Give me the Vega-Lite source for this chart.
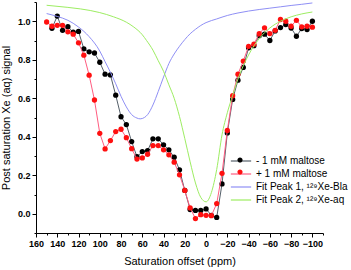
{
  "$schema": "https://vega.github.io/schema/vega-lite/v6.json",
  "width": 287,
  "height": 231,
  "autosize": "none",
  "padding": {"left": 36, "top": 2, "right": 28, "bottom": 37},
  "config": {
    "view": {"stroke": null},
    "font": "Liberation Sans",
    "axis": {"grid": false, "domainColor": "#000", "tickColor": "#000", "labelColor": "#000", "titleColor": "#000", "labelFont": "Liberation Sans", "labelFontWeight": "bold", "labelFontSize": 9, "titleFont": "Liberation Sans", "titleFontWeight": "normal", "titleFontSize": 11, "labelOverlap": false, "labelFlush": false}
  },
  "datasets": {
    "minus": [
      {"s": "- 1 mM maltose", "x": 145, "y": 0.963}, {"s": "- 1 mM maltose", "x": 140, "y": 1.027}, {"s": "- 1 mM maltose", "x": 135, "y": 0.953}, {"s": "- 1 mM maltose", "x": 130, "y": 0.972}, {"s": "- 1 mM maltose", "x": 125, "y": 0.943}, {"s": "- 1 mM maltose", "x": 120, "y": 0.947}, {"s": "- 1 mM maltose", "x": 115, "y": 0.857}, {"s": "- 1 mM maltose", "x": 110, "y": 0.841}, {"s": "- 1 mM maltose", "x": 105, "y": 0.835}, {"s": "- 1 mM maltose", "x": 100, "y": 0.787}, {"s": "- 1 mM maltose", "x": 95, "y": 0.725}, {"s": "- 1 mM maltose", "x": 90, "y": 0.721}, {"s": "- 1 mM maltose", "x": 85, "y": 0.616}, {"s": "- 1 mM maltose", "x": 80, "y": 0.504}, {"s": "- 1 mM maltose", "x": 75, "y": 0.463}, {"s": "- 1 mM maltose", "x": 70, "y": 0.375}, {"s": "- 1 mM maltose", "x": 65, "y": 0.296}, {"s": "- 1 mM maltose", "x": 60, "y": 0.323}, {"s": "- 1 mM maltose", "x": 55, "y": 0.328}, {"s": "- 1 mM maltose", "x": 50, "y": 0.389}, {"s": "- 1 mM maltose", "x": 45, "y": 0.389}, {"s": "- 1 mM maltose", "x": 40, "y": 0.358}, {"s": "- 1 mM maltose", "x": 35, "y": 0.332}, {"s": "- 1 mM maltose", "x": 30, "y": 0.294}, {"s": "- 1 mM maltose", "x": 25, "y": 0.228}, {"s": "- 1 mM maltose", "x": 20, "y": 0.121}, {"s": "- 1 mM maltose", "x": 15, "y": 0.022}, {"s": "- 1 mM maltose", "x": 10, "y": 0.017}, {"s": "- 1 mM maltose", "x": 5, "y": 0.017}, {"s": "- 1 mM maltose", "x": 0, "y": 0.025}, {"s": "- 1 mM maltose", "x": -5, "y": -0.008}, {"s": "- 1 mM maltose", "x": -10, "y": -0.019}, {"s": "- 1 mM maltose", "x": -15, "y": 0.155}, {"s": "- 1 mM maltose", "x": -20, "y": 0.42}, {"s": "- 1 mM maltose", "x": -25, "y": 0.594}, {"s": "- 1 mM maltose", "x": -30, "y": 0.694}, {"s": "- 1 mM maltose", "x": -35, "y": 0.76}, {"s": "- 1 mM maltose", "x": -40, "y": 0.862}, {"s": "- 1 mM maltose", "x": -45, "y": 0.873}, {"s": "- 1 mM maltose", "x": -50, "y": 0.925}, {"s": "- 1 mM maltose", "x": -55, "y": 0.933}, {"s": "- 1 mM maltose", "x": -60, "y": 0.9}, {"s": "- 1 mM maltose", "x": -65, "y": 0.95}, {"s": "- 1 mM maltose", "x": -70, "y": 0.967}, {"s": "- 1 mM maltose", "x": -75, "y": 0.983}, {"s": "- 1 mM maltose", "x": -80, "y": 0.965}, {"s": "- 1 mM maltose", "x": -85, "y": 0.922}, {"s": "- 1 mM maltose", "x": -90, "y": 0.962}, {"s": "- 1 mM maltose", "x": -95, "y": 0.957}, {"s": "- 1 mM maltose", "x": -100, "y": 1.0}
    ],
    "plus": [
      {"s": "+ 1 mM maltose", "x": 150, "y": 0.996}, {"s": "+ 1 mM maltose", "x": 145, "y": 0.974}, {"s": "+ 1 mM maltose", "x": 140, "y": 0.979}, {"s": "+ 1 mM maltose", "x": 135, "y": 0.979}, {"s": "+ 1 mM maltose", "x": 130, "y": 0.945}, {"s": "+ 1 mM maltose", "x": 125, "y": 0.933}, {"s": "+ 1 mM maltose", "x": 120, "y": 0.888}, {"s": "+ 1 mM maltose", "x": 115, "y": 0.824}, {"s": "+ 1 mM maltose", "x": 110, "y": 0.72}, {"s": "+ 1 mM maltose", "x": 105, "y": 0.591}, {"s": "+ 1 mM maltose", "x": 100, "y": 0.418}, {"s": "+ 1 mM maltose", "x": 95, "y": 0.337}, {"s": "+ 1 mM maltose", "x": 90, "y": 0.38}, {"s": "+ 1 mM maltose", "x": 85, "y": 0.427}, {"s": "+ 1 mM maltose", "x": 80, "y": 0.439}, {"s": "+ 1 mM maltose", "x": 75, "y": 0.395}, {"s": "+ 1 mM maltose", "x": 70, "y": 0.338}, {"s": "+ 1 mM maltose", "x": 65, "y": 0.284}, {"s": "+ 1 mM maltose", "x": 60, "y": 0.29}, {"s": "+ 1 mM maltose", "x": 55, "y": 0.309}, {"s": "+ 1 mM maltose", "x": 50, "y": 0.354}, {"s": "+ 1 mM maltose", "x": 45, "y": 0.354}, {"s": "+ 1 mM maltose", "x": 40, "y": 0.332}, {"s": "+ 1 mM maltose", "x": 35, "y": 0.306}, {"s": "+ 1 mM maltose", "x": 30, "y": 0.268}, {"s": "+ 1 mM maltose", "x": 25, "y": 0.202}, {"s": "+ 1 mM maltose", "x": 20, "y": 0.121}, {"s": "+ 1 mM maltose", "x": 15, "y": 0.03}, {"s": "+ 1 mM maltose", "x": 10, "y": -0.025}, {"s": "+ 1 mM maltose", "x": 5, "y": -0.005}, {"s": "+ 1 mM maltose", "x": 0, "y": -0.008}, {"s": "+ 1 mM maltose", "x": -5, "y": -0.01}, {"s": "+ 1 mM maltose", "x": -10, "y": 0.053}, {"s": "+ 1 mM maltose", "x": -15, "y": 0.21}, {"s": "+ 1 mM maltose", "x": -20, "y": 0.433}, {"s": "+ 1 mM maltose", "x": -25, "y": 0.613}, {"s": "+ 1 mM maltose", "x": -30, "y": 0.725}, {"s": "+ 1 mM maltose", "x": -35, "y": 0.793}, {"s": "+ 1 mM maltose", "x": -40, "y": 0.87}, {"s": "+ 1 mM maltose", "x": -45, "y": 0.881}, {"s": "+ 1 mM maltose", "x": -50, "y": 0.935}, {"s": "+ 1 mM maltose", "x": -55, "y": 0.966}, {"s": "+ 1 mM maltose", "x": -60, "y": 0.936}, {"s": "+ 1 mM maltose", "x": -65, "y": 0.953}, {"s": "+ 1 mM maltose", "x": -70, "y": 1.009}, {"s": "+ 1 mM maltose", "x": -75, "y": 1.0}, {"s": "+ 1 mM maltose", "x": -80, "y": 0.974}, {"s": "+ 1 mM maltose", "x": -85, "y": 1.005}, {"s": "+ 1 mM maltose", "x": -90, "y": 0.971}, {"s": "+ 1 mM maltose", "x": -95, "y": 0.974}, {"s": "+ 1 mM maltose", "x": -100, "y": 0.969}
    ],
    "fits": [
      {"s": "Fit Peak 1, ¹²⁹Xe-Bla", "x": 150, "y": 1.04}, {"s": "Fit Peak 1, ¹²⁹Xe-Bla", "x": 140, "y": 1.025}, {"s": "Fit Peak 1, ¹²⁹Xe-Bla", "x": 130, "y": 1.005}, {"s": "Fit Peak 1, ¹²⁹Xe-Bla", "x": 120, "y": 0.97}, {"s": "Fit Peak 1, ¹²⁹Xe-Bla", "x": 110, "y": 0.92}, {"s": "Fit Peak 1, ¹²⁹Xe-Bla", "x": 100, "y": 0.845}, {"s": "Fit Peak 1, ¹²⁹Xe-Bla", "x": 95, "y": 0.79}, {"s": "Fit Peak 1, ¹²⁹Xe-Bla", "x": 90, "y": 0.735}, {"s": "Fit Peak 1, ¹²⁹Xe-Bla", "x": 85, "y": 0.675}, {"s": "Fit Peak 1, ¹²⁹Xe-Bla", "x": 80, "y": 0.61}, {"s": "Fit Peak 1, ¹²⁹Xe-Bla", "x": 75, "y": 0.555}, {"s": "Fit Peak 1, ¹²⁹Xe-Bla", "x": 70, "y": 0.515}, {"s": "Fit Peak 1, ¹²⁹Xe-Bla", "x": 65, "y": 0.497}, {"s": "Fit Peak 1, ¹²⁹Xe-Bla", "x": 62, "y": 0.493}, {"s": "Fit Peak 1, ¹²⁹Xe-Bla", "x": 58, "y": 0.5}, {"s": "Fit Peak 1, ¹²⁹Xe-Bla", "x": 55, "y": 0.515}, {"s": "Fit Peak 1, ¹²⁹Xe-Bla", "x": 50, "y": 0.565}, {"s": "Fit Peak 1, ¹²⁹Xe-Bla", "x": 45, "y": 0.635}, {"s": "Fit Peak 1, ¹²⁹Xe-Bla", "x": 40, "y": 0.71}, {"s": "Fit Peak 1, ¹²⁹Xe-Bla", "x": 35, "y": 0.78}, {"s": "Fit Peak 1, ¹²⁹Xe-Bla", "x": 30, "y": 0.83}, {"s": "Fit Peak 1, ¹²⁹Xe-Bla", "x": 25, "y": 0.87}, {"s": "Fit Peak 1, ¹²⁹Xe-Bla", "x": 20, "y": 0.905}, {"s": "Fit Peak 1, ¹²⁹Xe-Bla", "x": 15, "y": 0.935}, {"s": "Fit Peak 1, ¹²⁹Xe-Bla", "x": 10, "y": 0.958}, {"s": "Fit Peak 1, ¹²⁹Xe-Bla", "x": 5, "y": 0.978}, {"s": "Fit Peak 1, ¹²⁹Xe-Bla", "x": 0, "y": 0.993}, {"s": "Fit Peak 1, ¹²⁹Xe-Bla", "x": -10, "y": 1.012}, {"s": "Fit Peak 1, ¹²⁹Xe-Bla", "x": -20, "y": 1.03}, {"s": "Fit Peak 1, ¹²⁹Xe-Bla", "x": -30, "y": 1.043}, {"s": "Fit Peak 1, ¹²⁹Xe-Bla", "x": -40, "y": 1.053}, {"s": "Fit Peak 1, ¹²⁹Xe-Bla", "x": -50, "y": 1.061}, {"s": "Fit Peak 1, ¹²⁹Xe-Bla", "x": -60, "y": 1.068}, {"s": "Fit Peak 1, ¹²⁹Xe-Bla", "x": -70, "y": 1.075}, {"s": "Fit Peak 1, ¹²⁹Xe-Bla", "x": -80, "y": 1.082}, {"s": "Fit Peak 1, ¹²⁹Xe-Bla", "x": -90, "y": 1.088}, {"s": "Fit Peak 1, ¹²⁹Xe-Bla", "x": -100, "y": 1.095},
      {"s": "Fit Peak 2, ¹²⁹Xe-aq", "x": 150, "y": 1.083}, {"s": "Fit Peak 2, ¹²⁹Xe-aq", "x": 130, "y": 1.072}, {"s": "Fit Peak 2, ¹²⁹Xe-aq", "x": 118, "y": 1.064}, {"s": "Fit Peak 2, ¹²⁹Xe-aq", "x": 100, "y": 1.045}, {"s": "Fit Peak 2, ¹²⁹Xe-aq", "x": 87, "y": 1.023}, {"s": "Fit Peak 2, ¹²⁹Xe-aq", "x": 75, "y": 0.995}, {"s": "Fit Peak 2, ¹²⁹Xe-aq", "x": 68, "y": 0.97}, {"s": "Fit Peak 2, ¹²⁹Xe-aq", "x": 60, "y": 0.93}, {"s": "Fit Peak 2, ¹²⁹Xe-aq", "x": 56, "y": 0.9}, {"s": "Fit Peak 2, ¹²⁹Xe-aq", "x": 50, "y": 0.85}, {"s": "Fit Peak 2, ¹²⁹Xe-aq", "x": 45, "y": 0.795}, {"s": "Fit Peak 2, ¹²⁹Xe-aq", "x": 40, "y": 0.74}, {"s": "Fit Peak 2, ¹²⁹Xe-aq", "x": 35, "y": 0.67}, {"s": "Fit Peak 2, ¹²⁹Xe-aq", "x": 30, "y": 0.6}, {"s": "Fit Peak 2, ¹²⁹Xe-aq", "x": 25, "y": 0.505}, {"s": "Fit Peak 2, ¹²⁹Xe-aq", "x": 20, "y": 0.39}, {"s": "Fit Peak 2, ¹²⁹Xe-aq", "x": 15, "y": 0.27}, {"s": "Fit Peak 2, ¹²⁹Xe-aq", "x": 10, "y": 0.16}, {"s": "Fit Peak 2, ¹²⁹Xe-aq", "x": 5, "y": 0.085}, {"s": "Fit Peak 2, ¹²⁹Xe-aq", "x": 0, "y": 0.062}, {"s": "Fit Peak 2, ¹²⁹Xe-aq", "x": -5, "y": 0.11}, {"s": "Fit Peak 2, ¹²⁹Xe-aq", "x": -10, "y": 0.23}, {"s": "Fit Peak 2, ¹²⁹Xe-aq", "x": -15, "y": 0.41}, {"s": "Fit Peak 2, ¹²⁹Xe-aq", "x": -20, "y": 0.525}, {"s": "Fit Peak 2, ¹²⁹Xe-aq", "x": -25, "y": 0.615}, {"s": "Fit Peak 2, ¹²⁹Xe-aq", "x": -30, "y": 0.7}, {"s": "Fit Peak 2, ¹²⁹Xe-aq", "x": -40, "y": 0.825}, {"s": "Fit Peak 2, ¹²⁹Xe-aq", "x": -50, "y": 0.91}, {"s": "Fit Peak 2, ¹²⁹Xe-aq", "x": -60, "y": 0.965}, {"s": "Fit Peak 2, ¹²⁹Xe-aq", "x": -70, "y": 1.0}, {"s": "Fit Peak 2, ¹²⁹Xe-aq", "x": -80, "y": 1.023}, {"s": "Fit Peak 2, ¹²⁹Xe-aq", "x": -90, "y": 1.038}, {"s": "Fit Peak 2, ¹²⁹Xe-aq", "x": -100, "y": 1.048}
    ]
  },
  "encoding": {
    "x": {"field": "x", "type": "quantitative",
      "scale": {"domain": [-110, 160], "reverse": true, "nice": false, "zero": false},
      "axis": {"title": "Saturation offset (ppm)", "values": [-110, -100, -90, -80, -70, -60, -50, -40, -30, -20, -10, 0, 10, 20, 30, 40, 50, 60, 70, 80, 90, 100, 110, 120, 130, 140, 150, 160],
        "labelExpr": "datum.value % 20 === 0 ? datum.label : ''",
        "tickSize": {"condition": {"test": "datum.value % 20 === 0", "value": 4}, "value": 2},
        "labelPadding": 2, "titlePadding": 7}},
    "y": {"field": "y", "type": "quantitative",
      "scale": {"domain": [-0.1, 1.1], "nice": false, "zero": false},
      "axis": {"title": "Post saturation Xe (aq) signal", "values": [-0.1, 0, 0.1, 0.2, 0.3, 0.4, 0.5, 0.6, 0.7, 0.8, 0.9, 1.0, 1.1],
        "format": ".1f",
        "labelExpr": "(round(datum.value * 10) % 2 === 0 && datum.value > -0.05 && datum.value < 1.05) ? datum.label : ''",
        "tickSize": {"condition": {"test": "round(datum.value * 10) % 2 === 0", "value": 4}, "value": 2},
        "labelPadding": 2, "titlePadding": 6}}
  },
  "layer": [
    {"data": {"name": "minus"}, "mark": {"type": "line", "strokeWidth": 1},
      "encoding": {"stroke": {"field": "s", "type": "nominal",
        "scale": {"domain": ["- 1 mM maltose", "+ 1 mM maltose", "Fit Peak 1, ¹²⁹Xe-Bla", "Fit Peak 2, ¹²⁹Xe-aq"], "range": ["#55606a", "#ff5c80", "#8f8ff5", "#9ded62"]},
        "legend": {"title": null, "orient": "none", "legendX": 197, "legendY": 151, "symbolType": "M-1.45,0H1.45", "symbolSize": 196, "symbolStrokeWidth": 1.2, "labelFontSize": 10, "labelFont": "Liberation Sans", "labelColor": "#000", "rowPadding": 0, "labelOffset": 7, "padding": 0}}}},
    {"data": {"name": "minus"}, "mark": {"type": "point", "filled": true, "size": 28, "opacity": 1},
      "encoding": {"fill": {"field": "s", "type": "nominal",
        "scale": {"domain": ["- 1 mM maltose", "+ 1 mM maltose"], "range": ["#000000", "#ff1010"]},
        "legend": {"title": null, "orient": "none", "legendX": 197, "legendY": 151, "symbolType": "M-0.37,0A0.37,0.37,0,1,1,0.37,0A0.37,0.37,0,1,1,-0.37,0Z", "symbolSize": 196, "symbolStrokeWidth": 0, "labelExpr": "''", "labelFontSize": 10, "rowPadding": 0, "padding": 0}}}},
    {"data": {"name": "plus"}, "mark": {"type": "line", "strokeWidth": 1},
      "encoding": {"stroke": {"field": "s", "type": "nominal"}}},
    {"data": {"name": "plus"}, "mark": {"type": "point", "filled": true, "size": 28, "opacity": 1},
      "encoding": {"fill": {"field": "s", "type": "nominal"}}},
    {"data": {"name": "fits"}, "mark": {"type": "line", "strokeWidth": 1, "interpolate": "monotone"},
      "encoding": {"stroke": {"field": "s", "type": "nominal"}}}
  ]
}
